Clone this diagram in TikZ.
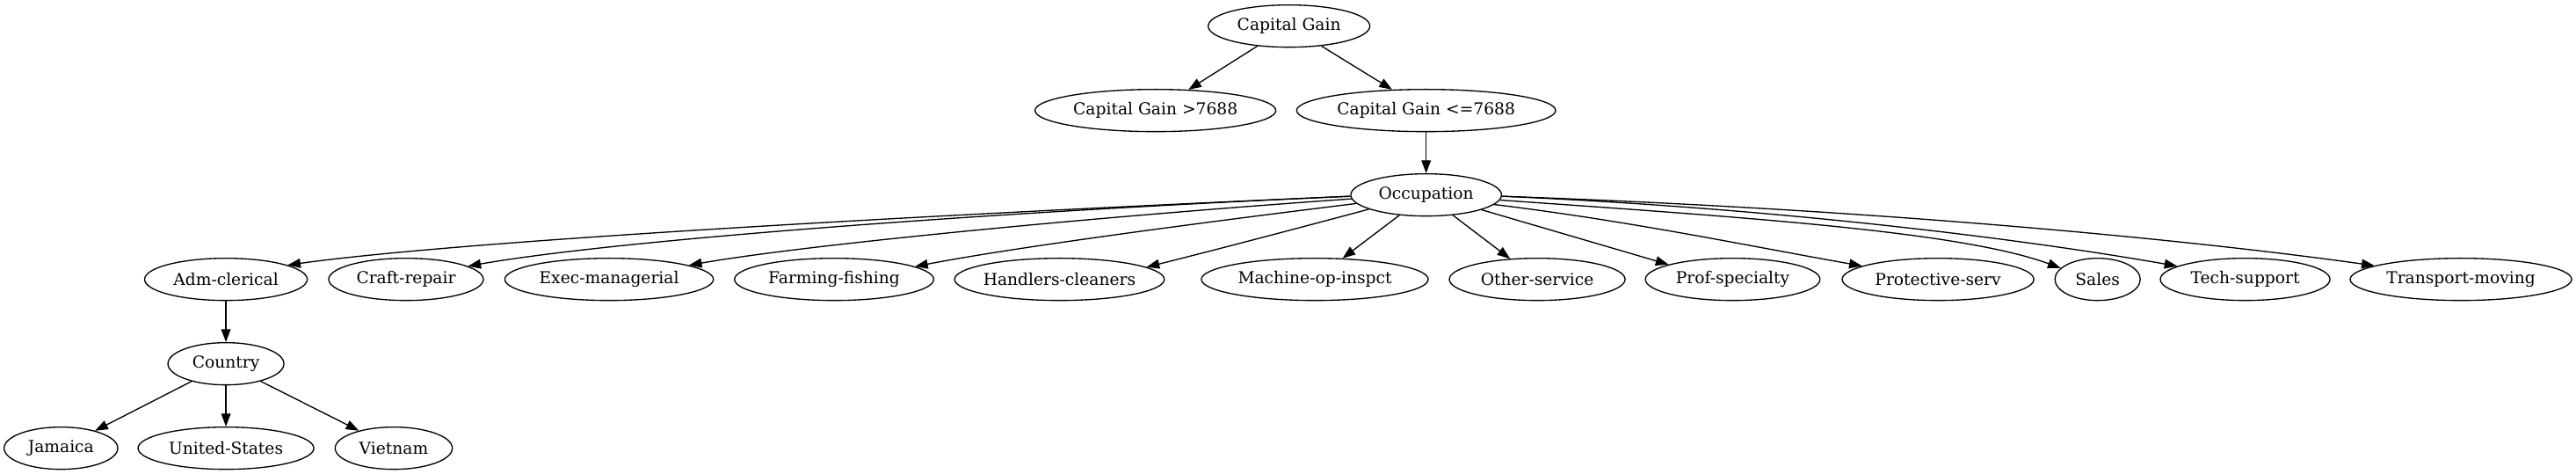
\documentclass[tikz,border=0pt]{standalone}
\usepackage{fontspec}
\setmainfont{DejaVu Serif}
\usetikzlibrary{arrows.meta,shapes.geometric}
\newcommand\gvlbl[1]{\makebox[0pt]{#1}}
\begin{document}
\begin{tikzpicture}[x=1pt,y=1pt,
  gv/.style={draw, ellipse, line width=1pt, inner sep=0pt, minimum height=36pt,
             font=\fontsize{14}{16}\selectfont},
  edge/.style={line width=1pt, -{Triangle[length=11pt,width=8pt]}}]
\useasboundingbox[fill=white] (0,0) rectangle (2198.25,404.25);
% rank 0-2
\node[gv, minimum width=138pt]   (cg)   at (1100,382) {\gvlbl{Capital Gain}};
\node[gv, minimum width=205.5pt] (cg1)  at (986,310)  {\gvlbl{Capital Gain >7688}};
\node[gv, minimum width=221pt]   (cg2)  at (1217,310) {\gvlbl{Capital Gain <=7688}};
\node[gv, minimum width=128.6pt] (occ)  at (1217,238) {\gvlbl{Occupation}};
% rank 3
\node[gv, minimum width=138.8pt] (adm)     at (192.8,166)  {\gvlbl{Adm-clerical}};
\node[gv, minimum width=132pt]   (craft)   at (346.5,166)  {\gvlbl{Craft-repair}};
\node[gv, minimum width=178pt]   (exec)    at (519.8,166)  {\gvlbl{Exec-managerial}};
\node[gv, minimum width=170pt]   (farm)    at (711.8,166)  {\gvlbl{Farming-fishing}};
\node[gv, minimum width=179pt]   (hand)    at (904.1,166)  {\gvlbl{Handlers-cleaners}};
\node[gv, minimum width=193.6pt] (mach)    at (1122,166)   {\gvlbl{Machine-op-inspct}};
\node[gv, minimum width=150pt]   (other)   at (1311.8,166) {\gvlbl{Other-service}};
\node[gv, minimum width=149pt]   (prof)    at (1478.6,166) {\gvlbl{Prof-specialty}};
\node[gv, minimum width=163.6pt] (protect) at (1653.8,166) {\gvlbl{Protective-serv}};
\node[gv, minimum width=72.8pt]  (sales)   at (1790,166)   {\gvlbl{Sales}};
\node[gv, minimum width=144.8pt] (tech)    at (1915.9,166) {\gvlbl{Tech-support}};
\node[gv, minimum width=189pt]   (trans)   at (2100,166)   {\gvlbl{Transport-moving}};
% rank 4-5
\node[gv, minimum width=99pt]  (country) at (192.8,94) {\gvlbl{Country}};
\node[gv, minimum width=97pt]  (jam)     at (52,22)    {\gvlbl{Jamaica}};
\node[gv, minimum width=150pt] (us)      at (192.8,22) {\gvlbl{United-States}};
\node[gv, minimum width=100pt] (viet)    at (336,22)   {\gvlbl{Vietnam}};
% edges
\draw[edge] (cg) -- (cg1);
\draw[edge] (cg) -- (cg2);
\draw[edge] (cg2) -- (occ);
\draw[edge] (occ.181) .. controls +(182.5:350) and +(8:150) .. (adm.13);
\draw[edge] (occ.181) .. controls +(182.5:300) and +(10:130) .. (craft.12);
\draw[edge] (occ.183) .. controls +(184:220) and +(10:100) .. (exec.10);
\draw[edge] (occ.187) .. controls +(187:150) and +(11:80) .. (farm.9);
\draw[edge] (occ.194) .. controls +(195:60) and +(14:60) .. (hand.8);
\draw[edge] (occ) -- (mach);
\draw[edge] (occ) -- (other);
\draw[edge] (occ.345) -- (prof.167);
\draw[edge] (occ.352) .. controls +(-7:120) and +(170:100) .. (protect.170);
\draw[edge] (occ.356) .. controls +(-4:220) and +(160:90) .. (sales.163);
\draw[edge] (occ.359) .. controls +(-2.5:250) and +(170:120) .. (tech.169);
\draw[edge] (occ.359) .. controls +(-2:320) and +(172:160) .. (trans.171);
\draw[edge] (adm) -- (country);
\draw[edge] (country) -- (jam);
\draw[edge] (country) -- (us);
\draw[edge] (country) -- (viet);
\end{tikzpicture}
\end{document}
